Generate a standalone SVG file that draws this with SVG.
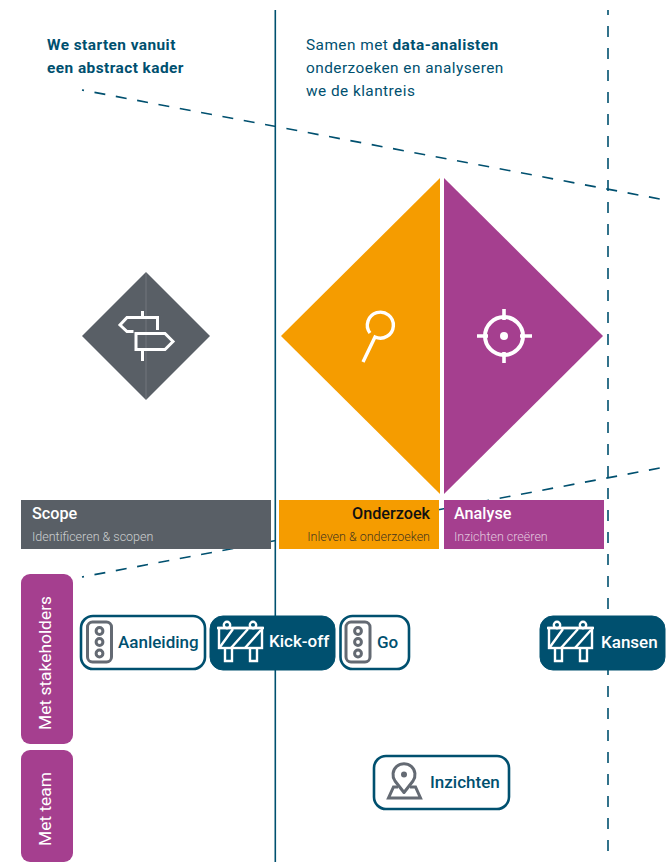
<svg xmlns="http://www.w3.org/2000/svg" width="667" height="862" viewBox="0 0 667 862">
<style>
text{font-family:Roboto,"Liberation Sans",sans-serif}
.hd{font-size:15.4px;fill:#00506f;letter-spacing:.45px}
.b{font-weight:700}
.t{font-size:16.2px;font-weight:500;fill:#fff}
.s{font-size:12.5px;fill:#fff;fill-opacity:.7;font-weight:300}
.lb{font-size:17px;font-weight:500}
.side{font-size:17.400px;font-weight:400;fill:#fff}
.dash{fill:none;stroke:#00506f;stroke-width:1.6}
.gr{fill:none;stroke:#646a73;stroke-width:3}
.box{fill:#fff;stroke:#00506f;stroke-width:2.600}
.fill{fill:#00506f;stroke:#00506f;stroke-width:1}
</style>
<defs>
<g id="barrier" fill="none" stroke="#fff" stroke-width="2.400">
<rect x="0" y="6" width="43" height="20"/>
<circle cx="8" cy="3" r="3.200"/><circle cx="34" cy="3" r="3.200"/>
<path d="M1 25 14 7M12 26 29 7M26 26 42 8"/>
<path d="M-2 6H45"/>
<path d="M6 26V39H13V26M31 26V39H38V26"/>
</g>
<g id="light" fill="none" stroke="#646a73" stroke-width="3">
<rect x="0" y="0" width="24" height="40" rx="5"/>
<circle cx="12" cy="9" r="3.400"/><circle cx="12" cy="20" r="3.400"/><circle cx="12" cy="31.500" r="3.400"/>
</g>
</defs>
<g id="connectors">
<path d="M275.300 10V862" fill="none" stroke="#00506f" stroke-width="1.600"/>
<path class="dash" d="M608 10V862" stroke-dasharray="11 11" stroke-dashoffset="6"/>
<path class="dash" d="M82 90 660 199" stroke-dasharray="11 10.700" stroke-dashoffset="9"/>
<path class="dash" d="M82 577 660 468" stroke-dasharray="11 10.700" stroke-dashoffset="9"/>
</g>
<g id="text-scope-intro">
<text class="hd b" x="47" y="50">We starten vanuit</text>
<text class="hd b" x="47" y="73">een abstract kader</text>
</g>
<g id="text-onderzoek-intro">
<text class="hd" x="306" y="50">Samen met <tspan class="b">data-analisten</tspan></text>
<text class="hd" x="306" y="73">onderzoeken en analyseren</text>
<text class="hd" x="306" y="96">we de klantreis</text>
</g>
<g id="diamond-scope">
<path d="M146 272 210 336 146 400 82 336Z" fill="#595f66"/>
<path d="M146 272V400" stroke="#fff" stroke-opacity=".15" stroke-width="1"/>
<path d="M142.500 311V318M142.500 350V361M157.500 330V317.500H127L120 325 127 331.500H133.500M136 333.500H165L173 341.500 165 349.500H136Z" fill="none" stroke="#fff" stroke-width="3"/>
</g>
<g id="diamond-onderzoek">
<path d="M440 178V494L281 336Z" fill="#f59c00"/>
<path d="M370 333A13 13 0 1 1 375 337L363 362" fill="none" stroke="#fff" stroke-width="3.400"/>
</g>
<g id="diamond-analyse">
<path d="M444 178V494L603 336Z" fill="#a53f8f"/>
<circle cx="504" cy="336" r="19" fill="none" stroke="#fff" stroke-width="4"/>
<circle cx="504" cy="336" r="4" fill="#fff"/>
<path d="M504 309V320M504 352V363M477 336H488M520 336H532" stroke="#fff" stroke-width="3.600"/>
</g>
<g id="phase-scope">
<rect x="21" y="500" width="250" height="49" fill="#595f66"/>
<text class="t" x="32" y="519">Scope</text>
<text class="s" x="32" y="541">Identificeren &amp; scopen</text>
</g>
<g id="phase-onderzoek">
<rect x="279" y="500" width="160" height="49" fill="#f59c00"/>
<text class="t" x="430" y="519" text-anchor="end" style="fill:#111">Onderzoek</text>
<text class="s" x="430" y="541" text-anchor="end" style="fill:#222;fill-opacity:.85">Inleven &amp; onderzoeken</text>
</g>
<g id="phase-analyse">
<rect x="444" y="500" width="160" height="49" fill="#a53f8f"/>
<text class="t" x="454" y="519">Analyse</text>
<text class="s" x="454" y="541">Inzichten creëren</text>
</g>
<g id="lane-stakeholders">
<rect x="21" y="574" width="52" height="170" rx="9" fill="#a53f8f"/>
<text class="side" transform="translate(51 730) rotate(-90)">Met stakeholders</text>
</g>
<g id="lane-team">
<rect x="21" y="750" width="52" height="112" rx="9" fill="#a53f8f"/>
<text class="side" transform="translate(51 846) rotate(-90)">Met team</text>
</g>
<g id="node-aanleiding">
<rect class="box" x="81" y="616" width="124" height="53" rx="12"/>
<use href="#light" x="87.500" y="622"/>
<text class="lb" x="118" y="648" fill="#00506f">Aanleiding</text>
</g>
<g id="node-kickoff">
<rect class="fill" x="210" y="616" width="125" height="54" rx="13"/>
<use href="#barrier" x="219" y="622"/>
<text class="lb" x="269" y="647" fill="#fff">Kick-off</text>
</g>
<g id="node-go">
<rect class="box" x="340.500" y="616" width="68.500" height="53" rx="12"/>
<use href="#light" x="346" y="622"/>
<text class="lb" x="377" y="648" fill="#00506f">Go</text>
</g>
<g id="node-kansen">
<rect class="fill" x="540" y="616" width="125" height="54" rx="13"/>
<use href="#barrier" x="549" y="622"/>
<text class="lb" x="601" y="648" fill="#fff">Kansen</text>
</g>
<g id="node-inzichten">
<rect class="box" x="374" y="756" width="135" height="53" rx="12"/>
<path class="gr" d="M404 792.500 395 781A11 11 0 1 1 413 781Z" stroke-linejoin="round"/>
<circle cx="404" cy="774.500" r="3" fill="#646a73"/>
<path class="gr" d="M398 787H393.500L388.500 798H420.500L415.500 787H410"/>
<text class="lb" x="430" y="788" fill="#00506f">Inzichten</text>
</g>
</svg>
